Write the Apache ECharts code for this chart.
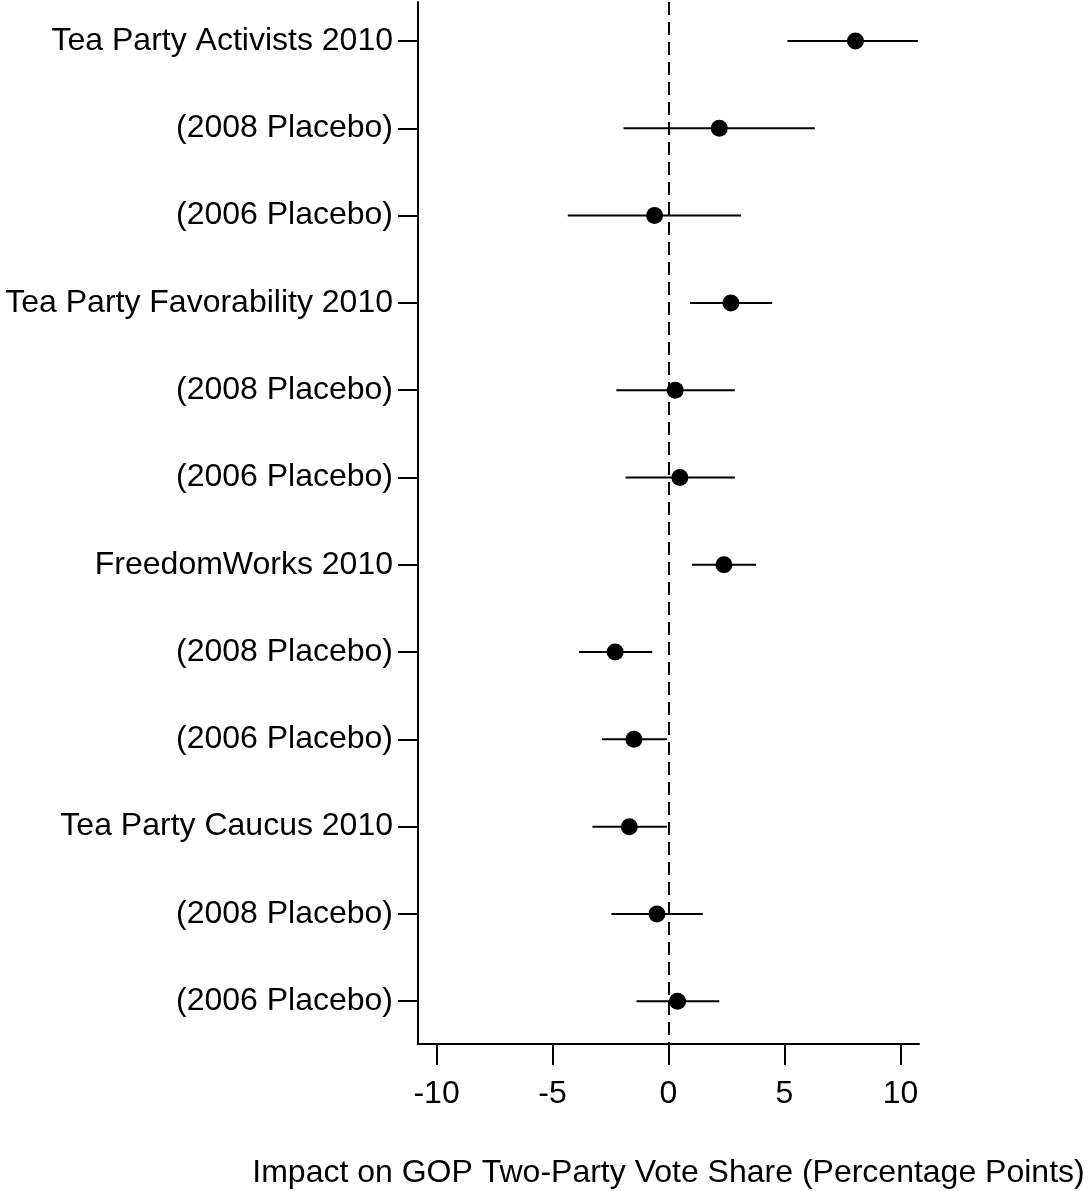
<!DOCTYPE html>
<html lang="en">
<head>
<meta charset="UTF-8">
<title>Tea Party effects</title>
<script src="https://cdn.jsdelivr.net/npm/echarts@6/dist/echarts.min.js"></script>
<style>body{margin:0;background:#fff;}</style>
</head>
<body>
<div id="dot_chart" style="width:1090px;height:1191px;"></div>
<script type="text/javascript">
var labels = [
	'Tea Party Activists 2010', '(2008 Placebo)', '(2006 Placebo)',
	'Tea Party Favorability 2010', '(2008 Placebo)', '(2006 Placebo)',
	'FreedomWorks 2010', '(2008 Placebo)', '(2006 Placebo)',
	'Tea Party Caucus 2010', '(2008 Placebo)', '(2006 Placebo)'
];
var estimates = [8.06, 2.19, -0.60, 2.69, 0.29, 0.49, 2.39, -2.30, -1.49, -1.69, -0.50, 0.39];
var lower = [5.13, -1.94, -4.34, 0.92, -2.25, -1.85, 1.01, -3.86, -2.87, -3.28, -2.46, -1.38];
var upper = [10.75, 6.31, 3.13, 4.47, 2.86, 2.86, 3.78, -0.70, -0.07, -0.07, 1.48, 2.19];
var xTicks = [-10, -5, 0, 5, 10];
var xTitle = 'Impact on GOP Two-Party Vote Share (Percentage Points)';

var rows = labels.map(function (d, i) { return i + 1; });
var font = "'Liberation Sans', Arial, sans-serif";

var dot_chart = echarts.init(document.getElementById('dot_chart'));

var option = {
	animation: false,
	backgroundColor: '#fff',
	grid: {left: 418, top: 2, width: 501, height: 1042, containLabel: false, outerBoundsMode: 'none'},
	xAxis: {
		type: 'value',
		min: -10.8,
		max: 10.8,
		splitLine: {show: false},
		axisLine: {show: true, onZero: false, lineStyle: {color: '#000', width: 2}},
		axisTick: {show: true, customValues: xTicks, length: 21, lineStyle: {color: '#000', width: 2}},
		axisLabel: {customValues: xTicks, margin: 34, color: '#000', fontSize: 32, fontFamily: font},
		name: xTitle,
		nameLocation: 'middle',
		nameGap: 113,
		nameTextStyle: {color: '#000', fontSize: 32, fontFamily: font}
	},
	yAxis: {
		type: 'value',
		inverse: true,
		min: 0.553,
		max: 12.49,
		splitLine: {show: false},
		axisLine: {show: true, onZero: false, lineStyle: {color: '#000', width: 2}},
		axisTick: {show: true, customValues: rows, length: 20, lineStyle: {color: '#000', width: 2}},
		axisLabel: {
			customValues: rows,
			margin: 25,
			color: '#000',
			fontSize: 32,
			fontFamily: font,
			formatter: function (v) { return labels[Math.round(v) - 1]; }
		}
	},
	series: [
		{
			type: 'custom',
			clip: false,
			data: rows.map(function (r, i) { return [lower[i], upper[i], r]; }),
			encode: {x: [0, 1], y: 2},
			renderItem: function (params, api) {
				var a = api.coord([api.value(0), api.value(2)]);
				var b = api.coord([api.value(1), api.value(2)]);
				return {
					type: 'line',
					shape: {x1: a[0], y1: a[1], x2: b[0], y2: b[1]},
					style: {stroke: '#000', lineWidth: 2}
				};
			},
			markLine: {
				silent: true,
				symbol: 'none',
				label: {show: false},
				lineStyle: {color: '#000', width: 2, type: [13, 7]},
				data: [{xAxis: 0}]
			}
		},
		{
			type: 'scatter',
			symbol: 'circle',
			symbolSize: 17,
			itemStyle: {color: '#000', opacity: 1},
			data: rows.map(function (r, i) { return [estimates[i], r]; })
		}
	]
};

dot_chart.setOption(option);
</script>
</body>
</html>
